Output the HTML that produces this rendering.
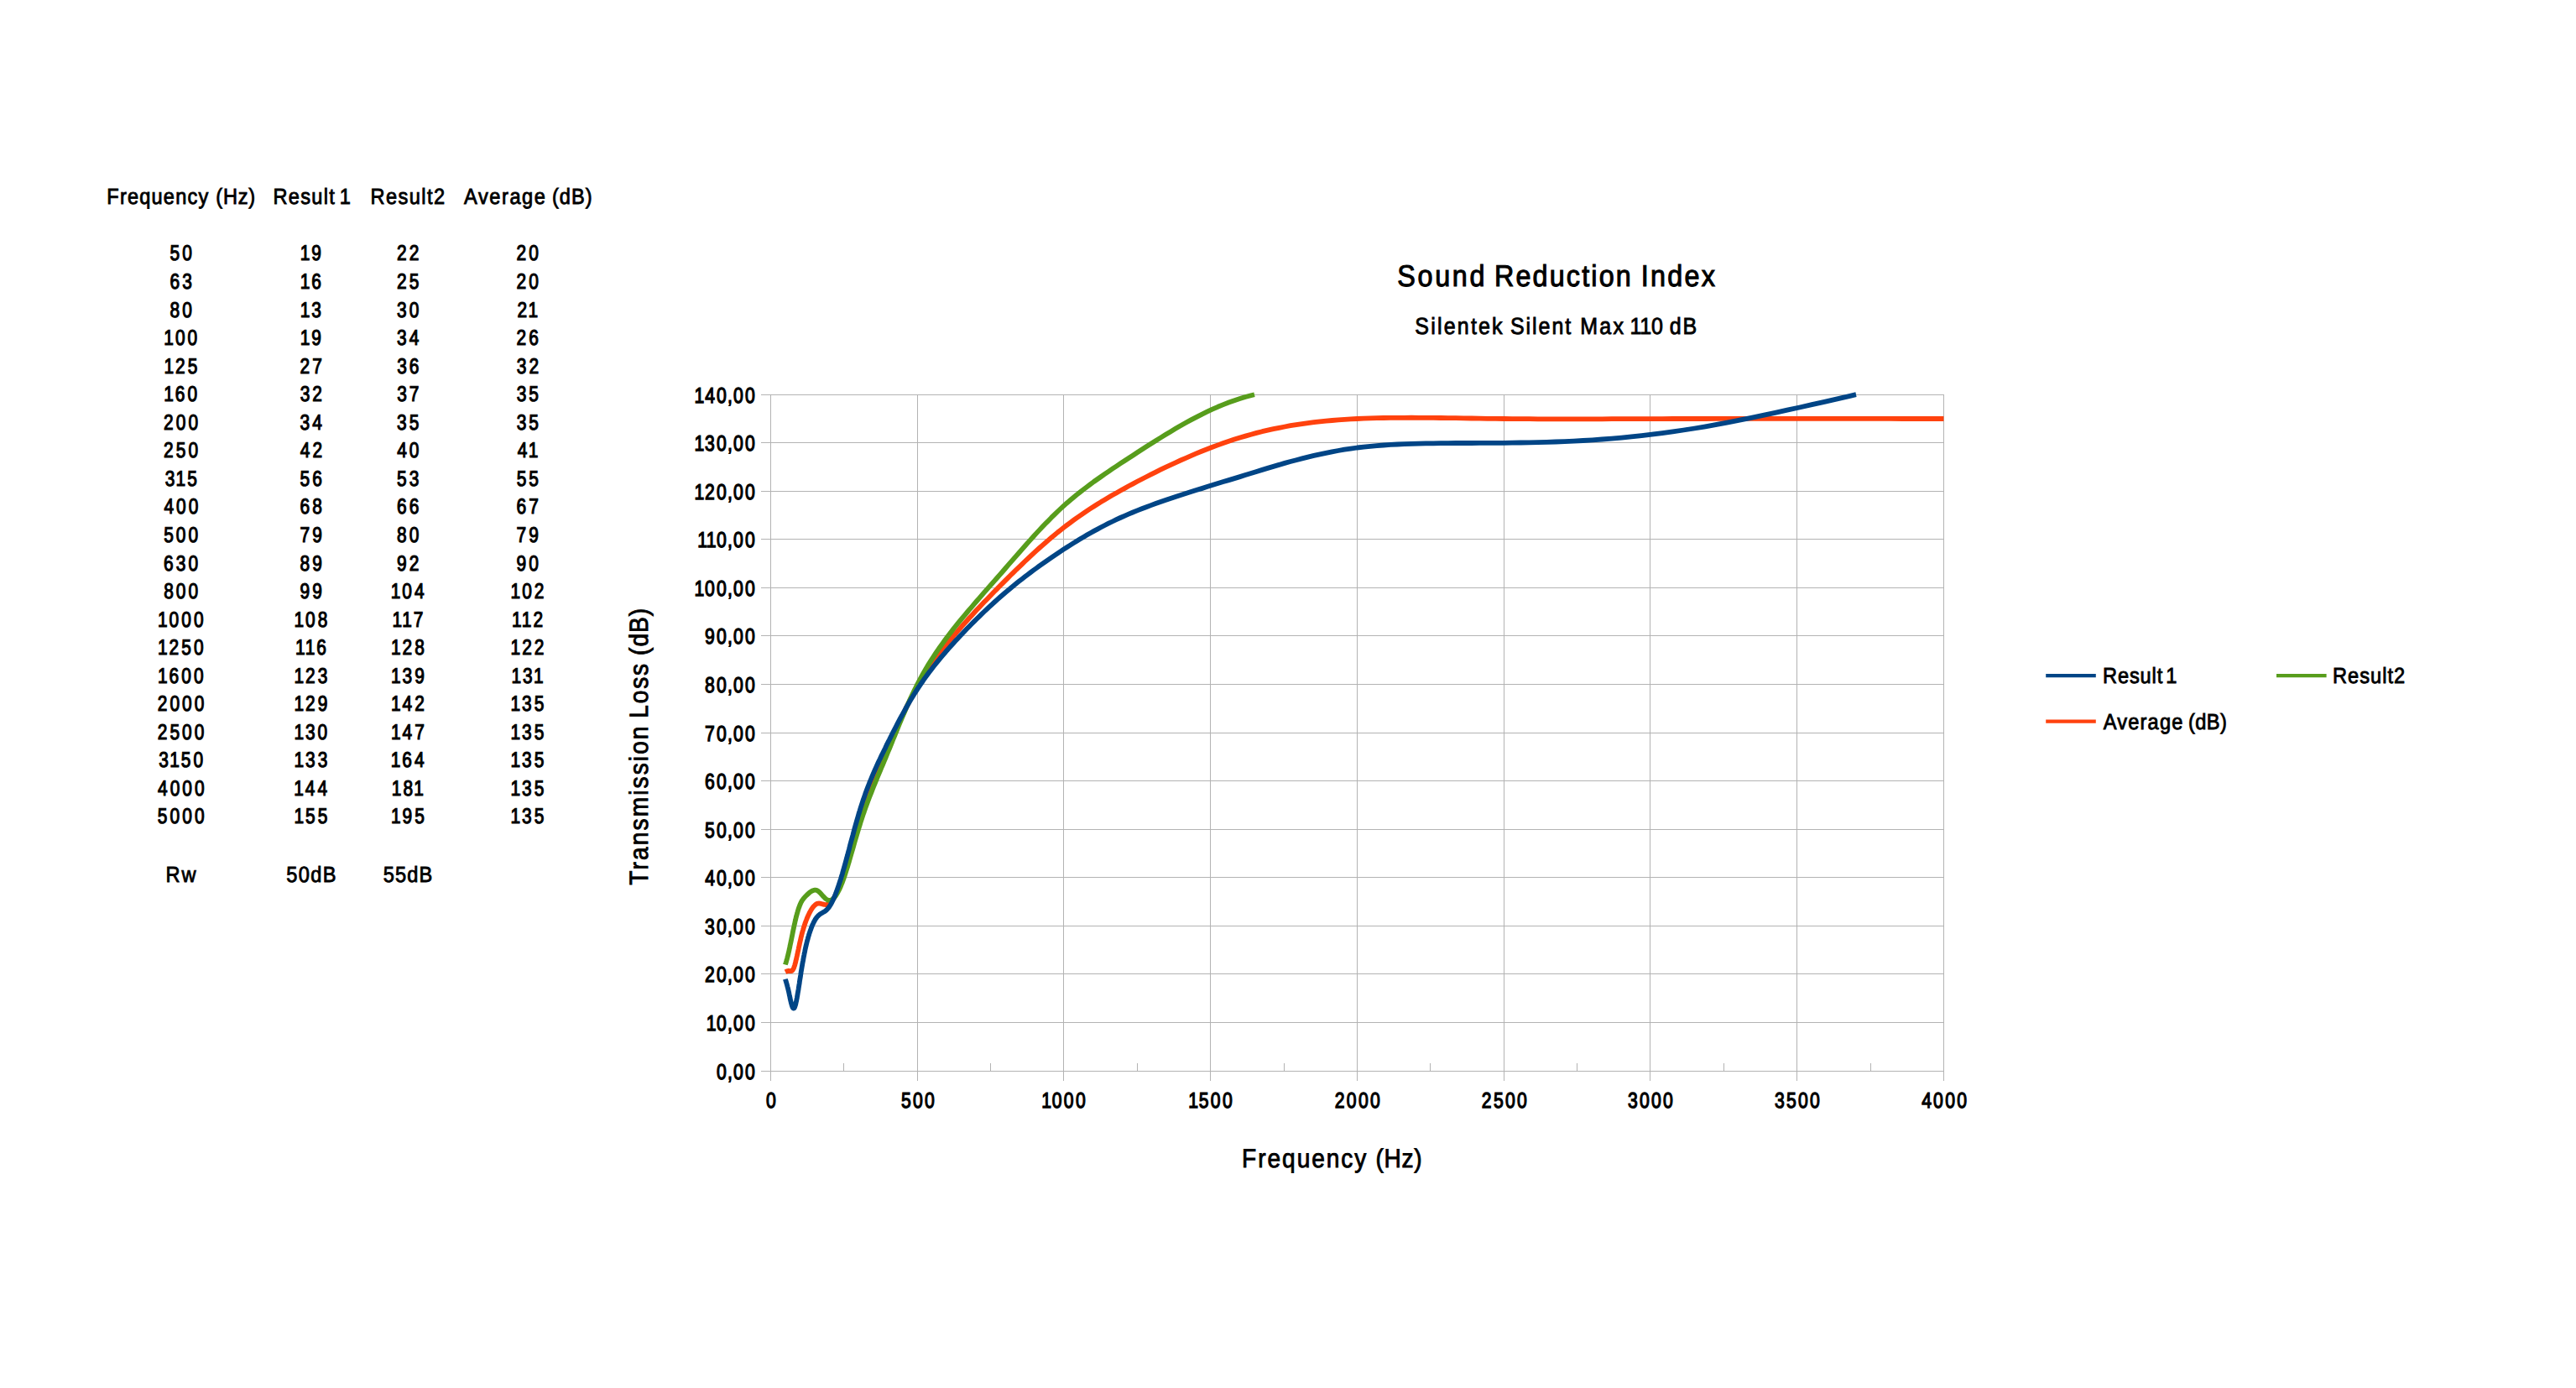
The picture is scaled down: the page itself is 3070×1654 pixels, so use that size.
<!DOCTYPE html>
<html lang="en"><head><meta charset="utf-8"><title>Sound Reduction Index</title>
<style>html,body{margin:0;padding:0;background:#fff}body{width:3070px;height:1654px;overflow:hidden}</style>
</head><body>
<svg width="3070" height="1654" viewBox="0 0 3070 1654" font-family='"Liberation Sans", sans-serif' fill="#000" stroke="#000" stroke-width="0.7" text-rendering="geometricPrecision" style="display:block">
<text transform="translate(0 242.95) scale(0.9 1)" font-size="26.2" stroke-width="0.9"><tspan x="141.46" letter-spacing="1.33">Frequency </tspan><tspan x="285.88" letter-spacing="0.87">(Hz)</tspan></text>
<text transform="translate(0 242.95) scale(0.9 1)" font-size="26.2" stroke-width="0.9"><tspan x="361.68" letter-spacing="1.42">Result </tspan><tspan x="449.76" letter-spacing="0">1</tspan></text>
<text transform="translate(0 242.95) scale(0.9 1)" font-size="26.2" stroke-width="0.9"><tspan x="490.57" letter-spacing="1.61">Result2</tspan></text>
<text transform="translate(0 242.95) scale(0.9 1)" font-size="26.2" stroke-width="0.9"><tspan x="614.59" letter-spacing="1.73">Average </tspan><tspan x="731.1" letter-spacing="1.1">(dB)</tspan></text>
<text transform="translate(0 1050.5) scale(0.9 1)" font-size="26.2" stroke-width="0.9"><tspan x="219.35" letter-spacing="2.19">Rw</tspan></text>
<text transform="translate(0 1050.5) scale(0.9 1)" font-size="26.2" stroke-width="0.9"><tspan x="379.31" letter-spacing="1.47">50dB</tspan></text>
<text transform="translate(0 1050.5) scale(0.9 1)" font-size="26.2" stroke-width="0.9"><tspan x="507.42" letter-spacing="1.32">55dB</tspan></text>
<text transform="translate(0 340.9) scale(0.9 1)" font-size="35.9" stroke-width="1.1"><tspan x="1850.25" letter-spacing="3.02">Sound </tspan><tspan x="1978.77" letter-spacing="2.42">Reduction </tspan><tspan x="2173.01" letter-spacing="2.55">Index</tspan></text>
<text transform="translate(0 397.6) scale(0.9 1)" font-size="27.75" stroke-width="0.9"><tspan x="1873.7" letter-spacing="2.45">Silentek </tspan><tspan x="1999.92" letter-spacing="2.19">Silent </tspan><tspan x="2092.39" letter-spacing="2.65">Max </tspan><tspan x="2158.42" letter-spacing="-0.33">110 </tspan><tspan x="2210.8" letter-spacing="2.02">dB</tspan></text>
<text transform="translate(0 1391) scale(0.9 1)" font-size="31.2" stroke-width="0.9"><tspan x="1644.56" letter-spacing="2.18">Frequency </tspan><tspan x="1821.79" letter-spacing="0.7">(Hz)</tspan></text>
<text transform="translate(772.4 1054.5) rotate(-90) scale(0.9 1)" font-size="31.2" stroke-width="0.9"><tspan x="-0.17" letter-spacing="2.35">Transmission </tspan><tspan x="220.89" letter-spacing="2.03">Loss </tspan><tspan x="304.02" letter-spacing="1.07">(dB)</tspan></text>
<text transform="translate(0 814.4) scale(0.9 1)" font-size="26.2" stroke-width="0.9"><tspan x="2784.46" letter-spacing="0.97">Result </tspan><tspan x="2868.01" letter-spacing="0">1</tspan></text>
<text transform="translate(0 814.4) scale(0.9 1)" font-size="26.2" stroke-width="0.9"><tspan x="3088.9" letter-spacing="1.15">Result2</tspan></text>
<text transform="translate(0 868.5) scale(0.9 1)" font-size="26.2" stroke-width="0.9"><tspan x="2785.37" letter-spacing="1.32">Average </tspan><tspan x="2897.77" letter-spacing="0.5">(dB)</tspan></text>
<text transform="scale(0.81 1)" x="250.05 268.17" y="310.45" font-size="25.8" stroke-width="1.2">50</text>
<text transform="scale(0.81 1)" x="441.75 458.47" y="310.45" font-size="25.8" stroke-width="1.2">19</text>
<text transform="scale(0.81 1)" x="584 602.15" y="310.45" font-size="25.8" stroke-width="1.2">22</text>
<text transform="scale(0.81 1)" x="759.9 778.05" y="310.45" font-size="25.8" stroke-width="1.2">20</text>
<text transform="scale(0.81 1)" x="249.88 268.19" y="344" font-size="25.8" stroke-width="1.2">63</text>
<text transform="scale(0.81 1)" x="441.75 458.38" y="344" font-size="25.8" stroke-width="1.2">16</text>
<text transform="scale(0.81 1)" x="583.88 602.05" y="344" font-size="25.8" stroke-width="1.2">25</text>
<text transform="scale(0.81 1)" x="759.9 778.05" y="344" font-size="25.8" stroke-width="1.2">20</text>
<text transform="scale(0.81 1)" x="249.99 268.14" y="377.55" font-size="25.8" stroke-width="1.2">80</text>
<text transform="scale(0.81 1)" x="441.67 458.46" y="377.55" font-size="25.8" stroke-width="1.2">13</text>
<text transform="scale(0.81 1)" x="584.05 602.12" y="377.55" font-size="25.8" stroke-width="1.2">30</text>
<text transform="scale(0.81 1)" x="761.1 777.11" y="377.55" font-size="25.8" stroke-width="1.2">21</text>
<text transform="scale(0.81 1)" x="241.21 257.92 276.07" y="411.1" font-size="25.8" stroke-width="1.2">100</text>
<text transform="scale(0.81 1)" x="441.75 458.47" y="411.1" font-size="25.8" stroke-width="1.2">19</text>
<text transform="scale(0.81 1)" x="583.88 602.04" y="411.1" font-size="25.8" stroke-width="1.2">34</text>
<text transform="scale(0.81 1)" x="760.01 778.07" y="411.1" font-size="25.8" stroke-width="1.2">26</text>
<text transform="scale(0.81 1)" x="241.24 257.95 276.12" y="444.65" font-size="25.8" stroke-width="1.2">125</text>
<text transform="scale(0.81 1)" x="441.41 459.55" y="444.65" font-size="25.8" stroke-width="1.2">27</text>
<text transform="scale(0.81 1)" x="584.16 602.14" y="444.65" font-size="25.8" stroke-width="1.2">36</text>
<text transform="scale(0.81 1)" x="760.24 778.32" y="444.65" font-size="25.8" stroke-width="1.2">32</text>
<text transform="scale(0.81 1)" x="241.21 257.84 276.07" y="478.2" font-size="25.8" stroke-width="1.2">160</text>
<text transform="scale(0.81 1)" x="441.6 459.67" y="478.2" font-size="25.8" stroke-width="1.2">32</text>
<text transform="scale(0.81 1)" x="584.2 602.26" y="478.2" font-size="25.8" stroke-width="1.2">37</text>
<text transform="scale(0.81 1)" x="760.12 778.22" y="478.2" font-size="25.8" stroke-width="1.2">35</text>
<text transform="scale(0.81 1)" x="240.83 258.98 277.13" y="511.75" font-size="25.8" stroke-width="1.2">200</text>
<text transform="scale(0.81 1)" x="441.29 459.44" y="511.75" font-size="25.8" stroke-width="1.2">34</text>
<text transform="scale(0.81 1)" x="584.07 602.17" y="511.75" font-size="25.8" stroke-width="1.2">35</text>
<text transform="scale(0.81 1)" x="760.12 778.22" y="511.75" font-size="25.8" stroke-width="1.2">35</text>
<text transform="scale(0.81 1)" x="240.83 259 277.13" y="545.3" font-size="25.8" stroke-width="1.2">250</text>
<text transform="scale(0.81 1)" x="441.8 459.87" y="545.3" font-size="25.8" stroke-width="1.2">42</text>
<text transform="scale(0.81 1)" x="584.25 602.31" y="545.3" font-size="25.8" stroke-width="1.2">40</text>
<text transform="scale(0.81 1)" x="761.49 777.42" y="545.3" font-size="25.8" stroke-width="1.2">41</text>
<text transform="scale(0.81 1)" x="242.84 258.77 275.51" y="578.85" font-size="25.8" stroke-width="1.2">315</text>
<text transform="scale(0.81 1)" x="441.51 459.55" y="578.85" font-size="25.8" stroke-width="1.2">56</text>
<text transform="scale(0.81 1)" x="584.02 602.22" y="578.85" font-size="25.8" stroke-width="1.2">53</text>
<text transform="scale(0.81 1)" x="760.07 778.22" y="578.85" font-size="25.8" stroke-width="1.2">55</text>
<text transform="scale(0.81 1)" x="241.22 259.29 277.44" y="612.4" font-size="25.8" stroke-width="1.2">400</text>
<text transform="scale(0.81 1)" x="441.27 459.5" y="612.4" font-size="25.8" stroke-width="1.2">68</text>
<text transform="scale(0.81 1)" x="583.91 602.06" y="612.4" font-size="25.8" stroke-width="1.2">66</text>
<text transform="scale(0.81 1)" x="760 778.23" y="612.4" font-size="25.8" stroke-width="1.2">67</text>
<text transform="scale(0.81 1)" x="240.97 259.1 277.24" y="645.95" font-size="25.8" stroke-width="1.2">500</text>
<text transform="scale(0.81 1)" x="441.35 459.51" y="645.95" font-size="25.8" stroke-width="1.2">79</text>
<text transform="scale(0.81 1)" x="583.94 602.09" y="645.95" font-size="25.8" stroke-width="1.2">80</text>
<text transform="scale(0.81 1)" x="759.99 778.16" y="645.95" font-size="25.8" stroke-width="1.2">79</text>
<text transform="scale(0.81 1)" x="240.78 259.09 277.16" y="679.5" font-size="25.8" stroke-width="1.2">630</text>
<text transform="scale(0.81 1)" x="441.45 459.61" y="679.5" font-size="25.8" stroke-width="1.2">89</text>
<text transform="scale(0.81 1)" x="584.05 602.19" y="679.5" font-size="25.8" stroke-width="1.2">92</text>
<text transform="scale(0.81 1)" x="759.95 778.09" y="679.5" font-size="25.8" stroke-width="1.2">90</text>
<text transform="scale(0.81 1)" x="240.92 259.07 277.21" y="713.05" font-size="25.8" stroke-width="1.2">800</text>
<text transform="scale(0.81 1)" x="441.41 459.56" y="713.05" font-size="25.8" stroke-width="1.2">99</text>
<text transform="scale(0.81 1)" x="575 591.71 609.94" y="713.05" font-size="25.8" stroke-width="1.2">104</text>
<text transform="scale(0.81 1)" x="751.36 768.07 786.22" y="713.05" font-size="25.8" stroke-width="1.2">102</text>
<text transform="scale(0.81 1)" x="232.14 248.85 267 285.15" y="746.6" font-size="25.8" stroke-width="1.2">1000</text>
<text transform="scale(0.81 1)" x="432.63 449.34 467.49" y="746.6" font-size="25.8" stroke-width="1.2">108</text>
<text transform="scale(0.81 1)" x="577.11 591.67 608.37" y="746.6" font-size="25.8" stroke-width="1.2">117</text>
<text transform="scale(0.81 1)" x="753.15 767.72 784.43" y="746.6" font-size="25.8" stroke-width="1.2">112</text>
<text transform="scale(0.81 1)" x="232.14 248.85 267.02 285.15" y="780.15" font-size="25.8" stroke-width="1.2">1250</text>
<text transform="scale(0.81 1)" x="434.47 449.04 465.66" y="780.15" font-size="25.8" stroke-width="1.2">116</text>
<text transform="scale(0.81 1)" x="575.22 591.93 610.08" y="780.15" font-size="25.8" stroke-width="1.2">128</text>
<text transform="scale(0.81 1)" x="751.36 768.07 786.22" y="780.15" font-size="25.8" stroke-width="1.2">122</text>
<text transform="scale(0.81 1)" x="232.14 248.76 267 285.15" y="813.7" font-size="25.8" stroke-width="1.2">1600</text>
<text transform="scale(0.81 1)" x="432.6 449.31 467.53" y="813.7" font-size="25.8" stroke-width="1.2">123</text>
<text transform="scale(0.81 1)" x="575.27 592.05 610.13" y="813.7" font-size="25.8" stroke-width="1.2">139</text>
<text transform="scale(0.81 1)" x="752.41 769.2 785.13" y="813.7" font-size="25.8" stroke-width="1.2">131</text>
<text transform="scale(0.81 1)" x="231.75 249.9 268.05 286.2" y="847.25" font-size="25.8" stroke-width="1.2">2000</text>
<text transform="scale(0.81 1)" x="432.68 449.39 467.54" y="847.25" font-size="25.8" stroke-width="1.2">129</text>
<text transform="scale(0.81 1)" x="575.31 592.1 610.17" y="847.25" font-size="25.8" stroke-width="1.2">142</text>
<text transform="scale(0.81 1)" x="751.24 768.03 786.12" y="847.25" font-size="25.8" stroke-width="1.2">135</text>
<text transform="scale(0.81 1)" x="231.75 249.93 268.05 286.2" y="880.8" font-size="25.8" stroke-width="1.2">2500</text>
<text transform="scale(0.81 1)" x="432.57 449.36 467.43" y="880.8" font-size="25.8" stroke-width="1.2">130</text>
<text transform="scale(0.81 1)" x="575.32 592.11 610.16" y="880.8" font-size="25.8" stroke-width="1.2">147</text>
<text transform="scale(0.81 1)" x="751.24 768.03 786.12" y="880.8" font-size="25.8" stroke-width="1.2">135</text>
<text transform="scale(0.81 1)" x="233.74 249.67 266.41 284.53" y="914.35" font-size="25.8" stroke-width="1.2">3150</text>
<text transform="scale(0.81 1)" x="432.6 449.38 467.53" y="914.35" font-size="25.8" stroke-width="1.2">133</text>
<text transform="scale(0.81 1)" x="575 591.62 609.94" y="914.35" font-size="25.8" stroke-width="1.2">164</text>
<text transform="scale(0.81 1)" x="751.24 768.03 786.12" y="914.35" font-size="25.8" stroke-width="1.2">135</text>
<text transform="scale(0.81 1)" x="232.15 250.21 268.36 286.51" y="947.9" font-size="25.8" stroke-width="1.2">4000</text>
<text transform="scale(0.81 1)" x="432.4 449.2 467.35" y="947.9" font-size="25.8" stroke-width="1.2">144</text>
<text transform="scale(0.81 1)" x="576.36 593.07 609.08" y="947.9" font-size="25.8" stroke-width="1.2">181</text>
<text transform="scale(0.81 1)" x="751.24 768.03 786.12" y="947.9" font-size="25.8" stroke-width="1.2">135</text>
<text transform="scale(0.81 1)" x="231.9 250.02 268.17 286.32" y="981.45" font-size="25.8" stroke-width="1.2">5000</text>
<text transform="scale(0.81 1)" x="432.6 449.33 467.48" y="981.45" font-size="25.8" stroke-width="1.2">155</text>
<text transform="scale(0.81 1)" x="575.19 591.91 610.07" y="981.45" font-size="25.8" stroke-width="1.2">195</text>
<text transform="scale(0.81 1)" x="751.24 768.03 786.12" y="981.45" font-size="25.8" stroke-width="1.2">135</text>
<path d="M907 1276.5H2317M907 1218.5H2317M907 1160.5H2317M907 1103.5H2317M907 1045.5H2317M907 988.5H2317M907 930.5H2317M907 873.5H2317M907 815.5H2317M907 757.5H2317M907 700.5H2317M907 642.5H2317M907 585.5H2317M907 527.5H2317M907 470.5H2317M918.5 470V1288M1093.5 470V1288M1267.5 470V1288M1442.5 470V1288M1617.5 470V1288M1792.5 470V1288M1966.5 470V1288M2141.5 470V1288M2316.5 470V1288M1005.5 1267V1276.5M1180.5 1267V1276.5M1355.5 1267V1276.5M1530.5 1267V1276.5M1704.5 1267V1276.5M1879.5 1267V1276.5M2054.5 1267V1276.5M2229.5 1267V1276.5" fill="none" stroke="#b3b3b3" stroke-width="1"/>
<text transform="scale(0.82 1)" x="1041.6 1057.26 1065.74 1082.88" y="1285.6" font-size="25.8" stroke-width="1.3">0,00</text>
<text transform="scale(0.82 1)" x="1026.4 1041.6 1057.26 1065.74 1082.88" y="1228.03" font-size="25.8" stroke-width="1.3">10,00</text>
<text transform="scale(0.82 1)" x="1024.46 1041.6 1057.26 1065.74 1082.88" y="1170.46" font-size="25.8" stroke-width="1.3">20,00</text>
<text transform="scale(0.82 1)" x="1024.54 1041.6 1057.26 1065.74 1082.88" y="1112.89" font-size="25.8" stroke-width="1.3">30,00</text>
<text transform="scale(0.82 1)" x="1024.55 1041.6 1057.26 1065.74 1082.88" y="1055.31" font-size="25.8" stroke-width="1.3">40,00</text>
<text transform="scale(0.82 1)" x="1024.49 1041.6 1057.26 1065.74 1082.88" y="997.74" font-size="25.8" stroke-width="1.3">50,00</text>
<text transform="scale(0.82 1)" x="1024.38 1041.6 1057.26 1065.74 1082.88" y="940.17" font-size="25.8" stroke-width="1.3">60,00</text>
<text transform="scale(0.82 1)" x="1024.45 1041.6 1057.26 1065.74 1082.88" y="882.6" font-size="25.8" stroke-width="1.3">70,00</text>
<text transform="scale(0.82 1)" x="1024.46 1041.6 1057.26 1065.74 1082.88" y="825.03" font-size="25.8" stroke-width="1.3">80,00</text>
<text transform="scale(0.82 1)" x="1024.47 1041.6 1057.26 1065.74 1082.88" y="767.46" font-size="25.8" stroke-width="1.3">90,00</text>
<text transform="scale(0.82 1)" x="1009.26 1024.46 1041.6 1057.26 1065.74 1082.88" y="709.89" font-size="25.8" stroke-width="1.3">100,00</text>
<text transform="scale(0.82 1)" x="1013.84 1026.4 1041.6 1057.26 1065.74 1082.88" y="652.31" font-size="25.8" stroke-width="1.3">110,00</text>
<text transform="scale(0.82 1)" x="1009.26 1024.46 1041.6 1057.26 1065.74 1082.88" y="594.74" font-size="25.8" stroke-width="1.3">120,00</text>
<text transform="scale(0.82 1)" x="1009.26 1024.54 1041.6 1057.26 1065.74 1082.88" y="537.17" font-size="25.8" stroke-width="1.3">130,00</text>
<text transform="scale(0.82 1)" x="1009.26 1024.55 1041.6 1057.26 1065.74 1082.88" y="479.6" font-size="25.8" stroke-width="1.3">140,00</text>
<text transform="scale(0.82 1)" x="1113.44" y="1320.1" font-size="25.8" stroke-width="1.3">0</text>
<text transform="scale(0.82 1)" x="1309.72 1326.82 1343.96" y="1320.1" font-size="25.8" stroke-width="1.3">500</text>
<text transform="scale(0.82 1)" x="1513.83 1529.03 1546.17 1563.3" y="1320.1" font-size="25.8" stroke-width="1.3">1000</text>
<text transform="scale(0.82 1)" x="1727.25 1742.47 1759.58 1776.72" y="1320.1" font-size="25.8" stroke-width="1.3">1500</text>
<text transform="scale(0.82 1)" x="1940.03 1957.16 1974.3 1991.43" y="1320.1" font-size="25.8" stroke-width="1.3">2000</text>
<text transform="scale(0.82 1)" x="2153.44 2170.6 2187.71 2204.85" y="1320.1" font-size="25.8" stroke-width="1.3">2500</text>
<text transform="scale(0.82 1)" x="2365.83 2382.89 2400.03 2417.16" y="1320.1" font-size="25.8" stroke-width="1.3">3000</text>
<text transform="scale(0.82 1)" x="2579.25 2596.33 2613.44 2630.57" y="1320.1" font-size="25.8" stroke-width="1.3">3500</text>
<text transform="scale(0.82 1)" x="2792.86 2809.91 2827.05 2844.18" y="1320.1" font-size="25.8" stroke-width="1.3">4000</text>
<path d="M935.9 1158.2L936.1 1158.1L936.3 1158.0L936.6 1157.9L936.8 1157.8L937.0 1157.7L937.2 1157.6L937.4 1157.5L937.6 1157.4L937.9 1157.3L938.1 1157.3L938.3 1157.2L938.5 1157.2L938.8 1157.1L939.0 1157.1L939.2 1157.0L939.5 1157.0L939.7 1157.0L940.0 1157.0L940.2 1157.0L940.5 1157.0L940.7 1157.1L941.0 1157.1L941.3 1157.2L941.5 1157.2L941.8 1157.2L942.1 1157.2L942.4 1157.2L942.7 1157.2L943.0 1157.1L943.3 1157.0L943.6 1156.9L943.9 1156.6L944.2 1156.4L944.5 1156.1L944.8 1155.7L945.1 1155.2L945.4 1154.6L945.8 1154.0L946.1 1153.3L946.4 1152.4L946.7 1151.5L947.1 1150.5L947.4 1149.3L947.7 1148.1L948.1 1146.8L948.4 1145.5L948.7 1144.0L949.1 1142.6L949.4 1141.0L949.8 1139.4L950.1 1137.8L950.5 1136.2L950.8 1134.5L951.2 1132.8L951.6 1131.1L951.9 1129.3L952.3 1127.6L952.7 1125.9L953.0 1124.2L953.4 1122.5L953.8 1120.8L954.2 1119.2L954.5 1117.6L954.9 1116.0L955.3 1114.4L955.7 1112.8L956.1 1111.3L956.5 1109.8L957.0 1108.3L957.4 1106.9L957.8 1105.4L958.3 1104.0L958.7 1102.6L959.2 1101.3L959.6 1099.9L960.1 1098.6L960.6 1097.2L961.1 1096.0L961.6 1094.7L962.1 1093.4L962.7 1092.2L963.2 1090.9L963.8 1089.8L964.3 1088.6L964.9 1087.5L965.5 1086.4L966.1 1085.3L966.7 1084.3L967.3 1083.3L967.9 1082.4L968.5 1081.5L969.2 1080.7L969.8 1080.0L970.5 1079.3L971.1 1078.7L971.7 1078.1L972.4 1077.6L973.1 1077.2L973.7 1076.9L974.4 1076.7L975.0 1076.6L975.7 1076.5L976.4 1076.5L977.0 1076.6L977.7 1076.7L978.4 1076.9L979.0 1077.0L979.7 1077.2L980.4 1077.4L981.1 1077.6L981.8 1077.8L982.5 1077.9L983.2 1078.0L983.9 1078.1L984.6 1078.0L985.4 1078.0L986.1 1077.8L986.8 1077.5L987.6 1077.2L988.3 1076.7L989.1 1076.1L989.9 1075.4L990.7 1074.5L991.5 1073.6L992.3 1072.5L993.1 1071.2L994.0 1069.9L994.8 1068.4L995.7 1066.8L996.5 1065.0L997.4 1063.1L998.3 1061.1L999.2 1059.0L1000.1 1056.7L1001.0 1054.3L1002.0 1051.7L1002.9 1049.0L1003.9 1046.2L1004.8 1043.3L1005.8 1040.2L1006.8 1036.9L1007.8 1033.6L1008.8 1030.1L1009.9 1026.5L1010.9 1022.8L1012.0 1019.0L1013.0 1015.1L1014.1 1011.2L1015.2 1007.2L1016.4 1003.2L1017.5 999.1L1018.6 995.0L1019.8 990.9L1021.0 986.8L1022.2 982.7L1023.4 978.6L1024.7 974.5L1025.9 970.4L1027.2 966.4L1028.5 962.4L1029.9 958.5L1031.2 954.7L1032.6 950.9L1034.0 947.2L1035.4 943.5L1036.8 939.8L1038.3 936.2L1039.7 932.6L1041.2 929.1L1042.7 925.5L1044.2 922.0L1045.7 918.5L1047.2 915.0L1048.8 911.5L1050.3 908.0L1051.9 904.6L1053.5 901.1L1055.1 897.5L1056.6 894.0L1058.2 890.5L1059.9 886.9L1061.5 883.3L1063.1 879.7L1064.7 876.1L1066.4 872.4L1068.1 868.8L1069.7 865.1L1071.4 861.4L1073.1 857.8L1074.9 854.1L1076.6 850.5L1078.4 846.8L1080.1 843.2L1081.9 839.6L1083.7 836.0L1085.6 832.4L1087.5 828.9L1089.3 825.4L1091.3 821.9L1093.2 818.5L1095.2 815.1L1097.2 811.8L1099.2 808.4L1101.2 805.2L1103.3 801.9L1105.4 798.7L1107.6 795.5L1109.8 792.3L1112.0 789.2L1114.2 786.0L1116.5 782.9L1118.8 779.8L1121.2 776.7L1123.6 773.6L1126.0 770.6L1128.4 767.5L1130.9 764.4L1133.5 761.3L1136.0 758.3L1138.6 755.2L1141.3 752.1L1144.0 749.0L1146.7 745.9L1149.5 742.8L1152.3 739.7L1155.1 736.5L1158.0 733.4L1160.9 730.2L1163.8 727.1L1166.8 723.9L1169.8 720.8L1172.8 717.6L1175.9 714.4L1179.0 711.2L1182.1 708.0L1185.2 704.8L1188.4 701.6L1191.6 698.3L1194.8 695.1L1198.0 691.9L1201.3 688.6L1204.6 685.3L1207.9 682.1L1211.2 678.8L1214.6 675.6L1218.0 672.3L1221.4 669.0L1224.8 665.8L1228.2 662.6L1231.7 659.4L1235.2 656.2L1238.7 653.0L1242.3 649.8L1245.9 646.7L1249.5 643.6L1253.1 640.5L1256.8 637.5L1260.5 634.4L1264.2 631.5L1267.9 628.5L1271.7 625.6L1275.5 622.8L1279.4 619.9L1283.3 617.1L1287.3 614.4L1291.3 611.6L1295.3 608.9L1299.4 606.2L1303.6 603.5L1307.9 600.8L1312.2 598.1L1316.6 595.5L1321.1 592.8L1325.7 590.1L1330.4 587.4L1335.1 584.8L1340.0 582.1L1345.0 579.3L1350.1 576.6L1355.3 573.8L1360.7 571.0L1366.1 568.2L1371.7 565.4L1377.3 562.6L1383.1 559.7L1388.9 556.9L1394.9 554.1L1400.9 551.3L1407.0 548.5L1413.2 545.8L1419.4 543.1L1425.7 540.4L1432.1 537.8L1438.5 535.3L1444.9 532.8L1451.4 530.4L1457.9 528.0L1464.5 525.8L1471.1 523.6L1477.7 521.5L1484.2 519.6L1490.9 517.7L1497.5 515.9L1504.2 514.2L1510.8 512.7L1517.6 511.2L1524.3 509.8L1531.1 508.5L1537.9 507.2L1544.8 506.1L1551.8 505.1L1558.8 504.1L1565.9 503.2L1573.0 502.4L1580.2 501.6L1587.5 501.0L1594.8 500.4L1602.3 499.8L1609.8 499.4L1617.4 499.0L1625.2 498.7L1633.0 498.4L1640.9 498.2L1648.9 498.0L1657.1 497.9L1665.3 497.8L1673.6 497.8L1682.1 497.7L1690.6 497.8L1699.3 497.8L1708.1 497.9L1717.0 498.0L1725.9 498.1L1735.1 498.2L1744.3 498.4L1753.6 498.5L1763.1 498.6L1772.7 498.8L1782.4 498.9L1792.2 499.0L1802.1 499.1L1812.2 499.1L1822.4 499.2L1832.8 499.3L1843.3 499.3L1853.9 499.3L1864.6 499.3L1875.6 499.3L1886.6 499.3L1897.8 499.3L1909.2 499.3L1920.8 499.2L1932.5 499.2L1944.3 499.2L1956.4 499.2L1968.6 499.1L1981.0 499.1L1993.6 499.0L2006.4 499.0L2019.4 499.0L2032.5 499.0L2045.9 498.9L2059.4 498.9L2073.2 498.9L2087.1 498.9L2101.2 498.9L2115.5 498.9L2129.9 498.9L2144.6 498.9L2159.4 498.9L2174.3 498.9L2189.5 498.9L2204.8 498.9L2220.3 498.9L2235.9 498.9L2251.7 498.9L2267.7 499.0L2283.8 499.0L2300.0 499.0L2316.4 499.0L2316.4 499.0" fill="none" stroke="#ff420e" stroke-width="5.8" stroke-linejoin="round"/>
<path d="M935.9 1149.5L936.1 1148.8L936.3 1148.1L936.6 1147.4L936.8 1146.7L937.0 1145.9L937.2 1145.2L937.4 1144.4L937.6 1143.7L937.9 1142.9L938.1 1142.1L938.3 1141.2L938.5 1140.4L938.8 1139.5L939.0 1138.6L939.2 1137.6L939.5 1136.6L939.7 1135.6L940.0 1134.5L940.2 1133.4L940.5 1132.3L940.7 1131.1L941.0 1129.8L941.3 1128.6L941.5 1127.2L941.8 1125.9L942.1 1124.5L942.4 1123.1L942.7 1121.7L943.0 1120.2L943.3 1118.7L943.6 1117.2L943.9 1115.7L944.2 1114.2L944.5 1112.7L944.8 1111.1L945.1 1109.6L945.4 1108.1L945.8 1106.5L946.1 1105.0L946.4 1103.5L946.7 1102.0L947.1 1100.5L947.4 1099.0L947.7 1097.6L948.1 1096.1L948.4 1094.7L948.7 1093.3L949.1 1091.9L949.4 1090.6L949.8 1089.3L950.1 1088.0L950.5 1086.8L950.8 1085.6L951.2 1084.4L951.6 1083.2L951.9 1082.1L952.3 1081.1L952.7 1080.1L953.0 1079.1L953.4 1078.2L953.8 1077.3L954.2 1076.4L954.5 1075.7L954.9 1074.9L955.3 1074.2L955.7 1073.5L956.1 1072.9L956.5 1072.2L957.0 1071.7L957.4 1071.1L957.8 1070.5L958.3 1070.0L958.7 1069.5L959.2 1069.0L959.6 1068.5L960.1 1068.0L960.6 1067.5L961.1 1067.0L961.6 1066.6L962.1 1066.1L962.7 1065.6L963.2 1065.1L963.8 1064.6L964.3 1064.1L964.9 1063.6L965.5 1063.1L966.1 1062.7L966.7 1062.3L967.3 1061.9L967.9 1061.6L968.5 1061.3L969.2 1061.1L969.8 1060.9L970.5 1060.7L971.1 1060.7L971.7 1060.7L972.4 1060.7L973.1 1060.9L973.7 1061.1L974.4 1061.5L975.0 1061.9L975.7 1062.4L976.4 1063.0L977.0 1063.6L977.7 1064.3L978.4 1065.0L979.0 1065.8L979.7 1066.5L980.4 1067.3L981.1 1068.1L981.8 1068.8L982.5 1069.5L983.2 1070.2L983.9 1070.9L984.6 1071.4L985.4 1071.9L986.1 1072.3L986.8 1072.7L987.6 1072.9L988.3 1073.0L989.1 1072.9L989.9 1072.8L990.7 1072.5L991.5 1072.1L992.3 1071.5L993.1 1070.8L994.0 1070.0L994.8 1069.0L995.7 1067.9L996.5 1066.7L997.4 1065.3L998.3 1063.7L999.2 1062.0L1000.1 1060.2L1001.0 1058.2L1002.0 1056.0L1002.9 1053.7L1003.9 1051.3L1004.8 1048.7L1005.8 1045.9L1006.8 1043.0L1007.8 1039.9L1008.8 1036.7L1009.9 1033.4L1010.9 1029.9L1012.0 1026.3L1013.0 1022.7L1014.1 1018.9L1015.2 1015.1L1016.4 1011.2L1017.5 1007.2L1018.6 1003.3L1019.8 999.2L1021.0 995.2L1022.2 991.1L1023.4 987.1L1024.7 983.0L1025.9 979.0L1027.2 975.0L1028.5 971.1L1029.9 967.2L1031.2 963.3L1032.6 959.5L1034.0 955.7L1035.4 952.0L1036.8 948.3L1038.3 944.6L1039.7 940.9L1041.2 937.2L1042.7 933.6L1044.2 929.9L1045.7 926.2L1047.2 922.6L1048.8 918.9L1050.3 915.2L1051.9 911.5L1053.5 907.7L1055.1 903.9L1056.6 900.1L1058.2 896.2L1059.9 892.3L1061.5 888.4L1063.1 884.4L1064.7 880.3L1066.4 876.3L1068.1 872.2L1069.7 868.1L1071.4 864.0L1073.1 859.9L1074.9 855.7L1076.6 851.6L1078.4 847.5L1080.1 843.4L1081.9 839.4L1083.7 835.3L1085.6 831.3L1087.5 827.3L1089.3 823.4L1091.3 819.5L1093.2 815.6L1095.2 811.8L1097.2 808.1L1099.2 804.4L1101.2 800.8L1103.3 797.2L1105.4 793.6L1107.6 790.1L1109.8 786.7L1112.0 783.2L1114.2 779.8L1116.5 776.4L1118.8 773.0L1121.2 769.7L1123.6 766.3L1126.0 763.0L1128.4 759.7L1130.9 756.4L1133.5 753.1L1136.0 749.8L1138.6 746.5L1141.3 743.2L1144.0 739.9L1146.7 736.6L1149.5 733.3L1152.3 730.0L1155.1 726.6L1158.0 723.3L1160.9 719.9L1163.8 716.5L1166.8 713.1L1169.8 709.6L1172.8 706.2L1175.9 702.7L1179.0 699.2L1182.1 695.6L1185.2 692.1L1188.4 688.5L1191.6 684.8L1194.8 681.2L1198.0 677.5L1201.3 673.7L1204.6 669.9L1207.9 666.1L1211.2 662.3L1214.6 658.5L1218.0 654.6L1221.4 650.8L1224.8 646.9L1228.2 643.1L1231.7 639.2L1235.2 635.4L1238.7 631.6L1242.3 627.8L1245.9 624.1L1249.5 620.4L1253.1 616.7L1256.8 613.1L1260.5 609.5L1264.2 606.0L1267.9 602.6L1271.7 599.3L1275.5 596.0L1279.4 592.7L1283.3 589.5L1287.3 586.4L1291.3 583.3L1295.3 580.2L1299.4 577.1L1303.6 574.0L1307.9 571.0L1312.2 568.0L1316.6 564.9L1321.1 561.8L1325.7 558.7L1330.4 555.6L1335.1 552.4L1340.0 549.2L1345.0 546.0L1350.1 542.7L1355.3 539.3L1360.7 535.8L1366.1 532.3L1371.7 528.8L1377.3 525.2L1383.1 521.6L1388.9 518.0L1394.9 514.4L1400.9 510.8L1407.0 507.3L1413.2 503.8L1419.4 500.4L1425.7 497.1L1432.1 493.8L1438.5 490.7L1444.9 487.7L1451.4 484.8L1457.9 482.1L1464.5 479.5L1471.1 477.2L1477.7 475.0L1484.2 473.0L1490.9 471.2L1495.0 470.2" fill="none" stroke="#579d1c" stroke-width="5.8" stroke-linejoin="round"/>
<path d="M935.9 1166.8L936.1 1167.5L936.3 1168.2L936.6 1168.9L936.8 1169.6L937.0 1170.3L937.2 1171.1L937.4 1171.8L937.6 1172.6L937.9 1173.4L938.1 1174.2L938.3 1175.0L938.5 1175.9L938.8 1176.7L939.0 1177.7L939.2 1178.6L939.5 1179.6L939.7 1180.7L940.0 1181.8L940.2 1182.9L940.5 1184.1L940.7 1185.3L941.0 1186.6L941.3 1187.9L941.5 1189.2L941.8 1190.5L942.1 1191.8L942.4 1193.1L942.7 1194.3L943.0 1195.5L943.3 1196.6L943.6 1197.6L943.9 1198.6L944.2 1199.4L944.5 1200.2L944.8 1200.8L945.1 1201.2L945.4 1201.5L945.8 1201.6L946.1 1201.6L946.4 1201.4L946.7 1200.9L947.1 1200.3L947.4 1199.4L947.7 1198.4L948.1 1197.3L948.4 1196.0L948.7 1194.5L949.1 1192.9L949.4 1191.2L949.8 1189.3L950.1 1187.4L950.5 1185.3L950.8 1183.2L951.2 1181.0L951.6 1178.7L951.9 1176.4L952.3 1174.1L952.7 1171.7L953.0 1169.2L953.4 1166.8L953.8 1164.4L954.2 1161.9L954.5 1159.5L954.9 1157.1L955.3 1154.7L955.7 1152.3L956.1 1149.9L956.5 1147.5L957.0 1145.1L957.4 1142.7L957.8 1140.4L958.3 1138.1L958.7 1135.8L959.2 1133.6L959.6 1131.3L960.1 1129.1L960.6 1127.0L961.1 1124.9L961.6 1122.8L962.1 1120.8L962.7 1118.8L963.2 1116.8L963.8 1114.9L964.3 1113.1L964.9 1111.3L965.5 1109.5L966.1 1107.9L966.7 1106.2L967.3 1104.7L967.9 1103.2L968.5 1101.7L969.2 1100.3L969.8 1099.0L970.5 1097.8L971.1 1096.6L971.7 1095.5L972.4 1094.5L973.1 1093.6L973.7 1092.7L974.4 1092.0L975.0 1091.3L975.7 1090.7L976.4 1090.1L977.0 1089.6L977.7 1089.1L978.4 1088.7L979.0 1088.3L979.7 1087.9L980.4 1087.5L981.1 1087.1L981.8 1086.7L982.5 1086.3L983.2 1085.8L983.9 1085.3L984.6 1084.7L985.4 1084.0L986.1 1083.3L986.8 1082.4L987.6 1081.5L988.3 1080.5L989.1 1079.3L989.9 1078.0L990.7 1076.6L991.5 1075.1L992.3 1073.4L993.1 1071.7L994.0 1069.8L994.8 1067.8L995.7 1065.6L996.5 1063.4L997.4 1061.0L998.3 1058.5L999.2 1055.9L1000.1 1053.2L1001.0 1050.4L1002.0 1047.4L1002.9 1044.3L1003.9 1041.1L1004.8 1037.8L1005.8 1034.4L1006.8 1030.9L1007.8 1027.2L1008.8 1023.4L1009.9 1019.6L1010.9 1015.7L1012.0 1011.7L1013.0 1007.6L1014.1 1003.5L1015.2 999.4L1016.4 995.2L1017.5 991.0L1018.6 986.8L1019.8 982.6L1021.0 978.4L1022.2 974.2L1023.4 970.0L1024.7 965.9L1025.9 961.8L1027.2 957.8L1028.5 953.8L1029.9 949.9L1031.2 946.1L1032.6 942.3L1034.0 938.6L1035.4 935.0L1036.8 931.4L1038.3 927.8L1039.7 924.4L1041.2 920.9L1042.7 917.5L1044.2 914.1L1045.7 910.8L1047.2 907.5L1048.8 904.2L1050.3 900.9L1051.9 897.7L1053.5 894.4L1055.1 891.2L1056.6 887.9L1058.2 884.7L1059.9 881.5L1061.5 878.2L1063.1 875.0L1064.7 871.8L1066.4 868.6L1068.1 865.3L1069.7 862.1L1071.4 858.9L1073.1 855.7L1074.9 852.5L1076.6 849.3L1078.4 846.1L1080.1 843.0L1081.9 839.8L1083.7 836.7L1085.6 833.6L1087.5 830.5L1089.3 827.5L1091.3 824.4L1093.2 821.4L1095.2 818.4L1097.2 815.4L1099.2 812.5L1101.2 809.5L1103.3 806.6L1105.4 803.7L1107.6 800.8L1109.8 798.0L1112.0 795.1L1114.2 792.3L1116.5 789.4L1118.8 786.6L1121.2 783.7L1123.6 780.9L1126.0 778.1L1128.4 775.2L1130.9 772.4L1133.5 769.5L1136.0 766.7L1138.6 763.8L1141.3 760.9L1144.0 758.0L1146.7 755.2L1149.5 752.2L1152.3 749.3L1155.1 746.4L1158.0 743.5L1160.9 740.6L1163.8 737.7L1166.8 734.8L1169.8 731.9L1172.8 729.0L1175.9 726.1L1179.0 723.2L1182.1 720.3L1185.2 717.5L1188.4 714.6L1191.6 711.8L1194.8 709.0L1198.0 706.2L1201.3 703.5L1204.6 700.7L1207.9 698.0L1211.2 695.3L1214.6 692.6L1218.0 690.0L1221.4 687.3L1224.8 684.7L1228.2 682.1L1231.7 679.5L1235.2 677.0L1238.7 674.4L1242.3 671.9L1245.9 669.3L1249.5 666.8L1253.1 664.3L1256.8 661.8L1260.5 659.3L1264.2 656.9L1267.9 654.4L1271.7 652.0L1275.5 649.6L1279.4 647.1L1283.3 644.7L1287.3 642.3L1291.3 640.0L1295.3 637.6L1299.4 635.2L1303.6 632.9L1307.9 630.6L1312.2 628.3L1316.6 626.0L1321.1 623.7L1325.7 621.5L1330.4 619.2L1335.1 617.0L1340.0 614.8L1345.0 612.7L1350.1 610.5L1355.3 608.4L1360.7 606.3L1366.1 604.2L1371.7 602.1L1377.3 600.1L1383.1 598.0L1388.9 596.0L1394.9 594.0L1400.9 592.0L1407.0 590.0L1413.2 588.0L1419.4 586.0L1425.7 584.0L1432.1 582.1L1438.5 580.1L1444.9 578.1L1451.4 576.1L1457.9 574.1L1464.5 572.1L1471.1 570.1L1477.7 568.1L1484.2 566.0L1490.9 564.0L1497.5 561.9L1504.2 559.9L1510.8 557.9L1517.6 555.9L1524.3 553.9L1531.1 551.9L1537.9 550.0L1544.8 548.2L1551.8 546.4L1558.8 544.6L1565.9 542.9L1573.0 541.3L1580.2 539.8L1587.5 538.3L1594.8 537.0L1602.3 535.7L1609.8 534.6L1617.4 533.5L1625.2 532.6L1633.0 531.8L1640.9 531.1L1648.9 530.5L1657.1 529.9L1665.3 529.5L1673.6 529.1L1682.1 528.8L1690.6 528.6L1699.3 528.4L1708.1 528.3L1717.0 528.2L1725.9 528.1L1735.1 528.0L1744.3 528.0L1753.6 528.0L1763.1 527.9L1772.7 527.9L1782.4 527.8L1792.2 527.8L1802.1 527.7L1812.2 527.5L1822.4 527.4L1832.8 527.1L1843.3 526.8L1853.9 526.5L1864.6 526.1L1875.6 525.6L1886.6 525.0L1897.8 524.3L1909.2 523.5L1920.8 522.6L1932.5 521.6L1944.3 520.4L1956.4 519.1L1968.6 517.7L1981.0 516.1L1993.6 514.4L2006.4 512.5L2019.4 510.5L2032.5 508.3L2045.9 505.9L2059.4 503.3L2073.2 500.7L2087.1 497.8L2101.2 494.9L2115.5 491.9L2129.9 488.7L2144.6 485.5L2159.4 482.1L2174.3 478.8L2189.5 475.3L2204.8 471.8L2212.0 470.2" fill="none" stroke="#004586" stroke-width="5.8" stroke-linejoin="round"/>
<path d="M2438.2 805.15h59.6" stroke="#004586" stroke-width="4.3" fill="none"/>
<path d="M2713.0 805.15h59.6" stroke="#579d1c" stroke-width="4.3" fill="none"/>
<path d="M2438.2 859.55h59.6" stroke="#ff420e" stroke-width="4.3" fill="none"/>
</svg>
</body></html>
